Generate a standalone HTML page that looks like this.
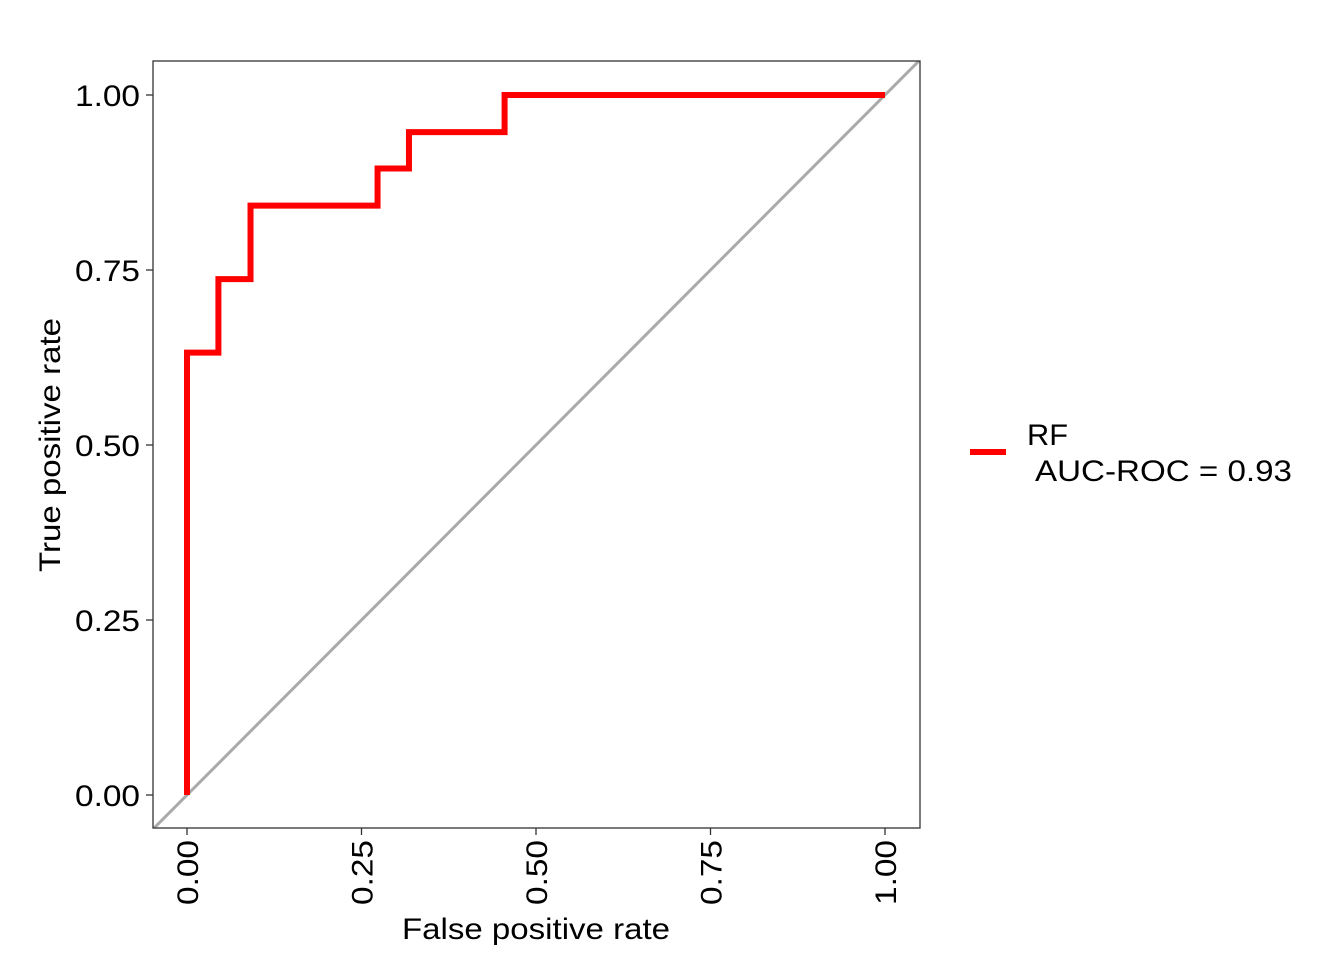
<!DOCTYPE html>
<html><head><meta charset="utf-8"><style>body{margin:0;background:#fff}svg{display:block;font-family:"Liberation Sans",Arial,sans-serif}</style></head>
<body>
<svg width="1344" height="960">
<defs><clipPath id="pc"><rect x="153" y="61" width="767" height="767"/></clipPath></defs>
<g id="ticks"></g>
<g id="plot" clip-path="url(#pc)"></g>
<rect x="153" y="61" width="767" height="767" fill="none" stroke="#333" stroke-width="1.3"/>
<text x="402" y="939" font-size="30" textLength="268" lengthAdjust="spacingAndGlyphs">False positive rate</text>
<text transform="translate(60,572) rotate(-90)" font-size="30" textLength="254" lengthAdjust="spacingAndGlyphs">True positive rate</text>
<g>
<line x1="970" y1="452" x2="1006" y2="452" stroke="#ff0000" stroke-width="6"/>
<text x="1027" y="445" font-size="30" textLength="41" lengthAdjust="spacingAndGlyphs">RF</text>
<text x="1035" y="481" font-size="30" textLength="257" lengthAdjust="spacingAndGlyphs">AUC-ROC = 0.93</text>
</g>
</svg>
<script>
const fpr = [0, 0, 0.045, 0.045, 0.091, 0.091, 0.273, 0.273, 0.318, 0.318, 0.455, 0.455, 1];
const tpr = [0, 0.632, 0.632, 0.737, 0.737, 0.842, 0.842, 0.895, 0.895, 0.947, 0.947, 1, 1];
const tickVals = [0, 0.25, 0.5, 0.75, 1];
const tickLabels = ["0.00", "0.25", "0.50", "0.75", "1.00"];
const NS = "http://www.w3.org/2000/svg";
const sx = v => 187 + v * 698;
const sy = v => 795 - v * 700;
const plot = document.getElementById('plot');
const ticks = document.getElementById('ticks');
function mk(tag, attrs, parent) {
  const e = document.createElementNS(NS, tag);
  for (const k in attrs) e.setAttribute(k, attrs[k]);
  parent.appendChild(e); return e;
}
const diag = mk('line', {x1: sx(-0.1), y1: sy(-0.1), x2: sx(1.1), y2: sy(1.1), stroke: '#aaaaaa', 'stroke-width': 3}, plot);


const pts = fpr.map((f, i) => sx(f) + ',' + sy(tpr[i])).join(' ');
const roc = mk('polyline', {points: pts, fill: 'none', stroke: '#ff0000', 'stroke-width': 6, 'stroke-linejoin': 'miter'}, plot);


tickVals.forEach((v, i) => {
  const yt = mk('line', {x1: 146, x2: 153, y1: sy(v), y2: sy(v), stroke: '#333', 'stroke-width': 1.3}, ticks);
  
  
  const yl = mk('text', {x: 75, y: sy(v) + 11, 'font-size': 30, textLength: 65, lengthAdjust: 'spacingAndGlyphs'}, ticks);
  yl.textContent = tickLabels[i];
  
  
  const xt = mk('line', {x1: sx(v), x2: sx(v), y1: 828, y2: 835, stroke: '#333', 'stroke-width': 1.3}, ticks);
  
  
  const xl = mk('text', {transform: 'translate(' + (sx(v) + 11) + ',905) rotate(-90)', 'font-size': 30, textLength: 65, lengthAdjust: 'spacingAndGlyphs'}, ticks);
  xl.textContent = tickLabels[i];
  
  
});
</script>
</body></html>
